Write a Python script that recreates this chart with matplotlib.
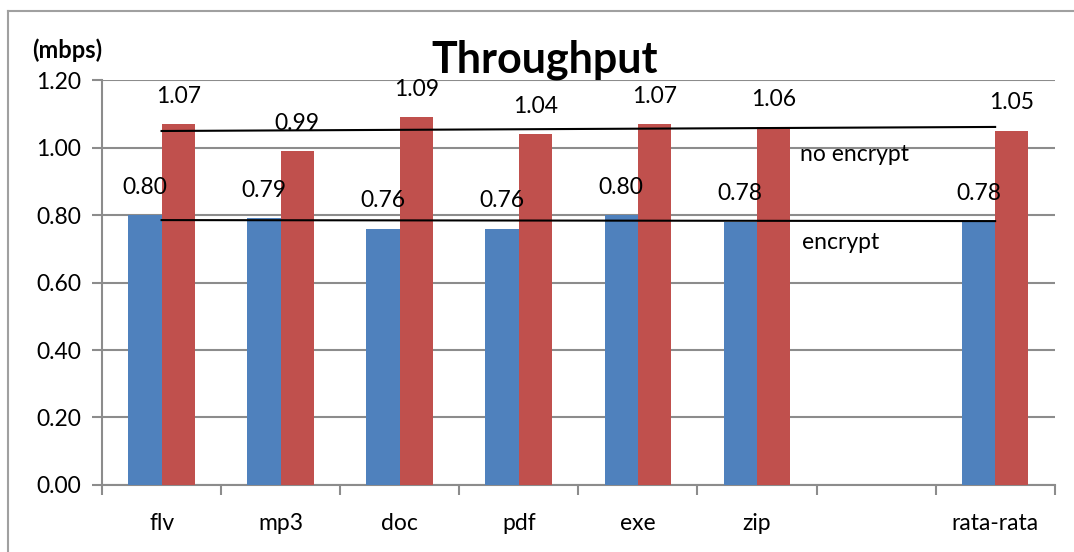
import matplotlib
matplotlib.use("Agg")
import matplotlib.pyplot as plt
from matplotlib.lines import Line2D
import numpy as np

plt.rcParams['font.family'] = ['Lato', 'DejaVu Sans']

# data
categories = ["flv", "mp3", "doc", "pdf", "exe", "zip", "", "rata-rata"]
encrypt = [0.80, 0.79, 0.76, 0.76, 0.80, 0.78, None, 0.78]
no_encrypt = [1.07, 0.99, 1.09, 1.04, 1.07, 1.06, None, 1.05]
# hand drawn guide lines (start, end)
line_no_encrypt = [1.049, 1.061]
line_encrypt = [0.785, 0.782]

blue = "#4F81BD"
red = "#C0504D"
grid_c = "#8C8C8C"
fs = 16.5

fig = plt.figure(figsize=(10.74, 5.52), dpi=100)
# chart border (left and top only visible in the crop)
bx, by = 8 / 1074, 1 - 11 / 552
fig.lines.append(Line2D([bx, bx], [0, by], transform=fig.transFigure,
                        color="#A0A0A0", linewidth=1.5))
fig.lines.append(Line2D([bx, 1], [by, by], transform=fig.transFigure,
                        color="#A0A0A0", linewidth=1.5))
ax = fig.add_axes([0.095, 0.1214, 0.887, 0.7336])

x = np.arange(len(categories))
w = 0.28
for i in range(len(categories)):
    if encrypt[i] is None:
        continue
    ax.bar(x[i] - w / 2, encrypt[i], w, color=blue, zorder=3)
    ax.bar(x[i] + w / 2, no_encrypt[i], w, color=red, zorder=3)
    ax.annotate("%.2f" % encrypt[i], (x[i] - w / 2, encrypt[i]), xytext=(0, 20),
                textcoords="offset points", ha="center", va="center", fontsize=fs)
    ax.annotate("%.2f" % no_encrypt[i], (x[i] + w / 2, no_encrypt[i]), xytext=(0, 20),
                textcoords="offset points", ha="center", va="center", fontsize=fs)

ax.plot([x[0], x[-1]], line_no_encrypt, color="black", linewidth=1.5, zorder=4)
ax.plot([x[0], x[-1]], line_encrypt, color="black", linewidth=1.5, zorder=4)
ax.text(5.36, 0.978, "no encrypt", fontsize=fs, va="center", ha="left")
ax.text(5.38, 0.72, "encrypt", fontsize=fs, va="center", ha="left")

ax.set_xlim(-0.5, len(categories) - 0.5)
ax.set_ylim(0, 1.2)
ax.set_yticks(np.arange(0, 1.21, 0.2))
ax.set_yticklabels(["%.2f" % v for v in np.arange(0, 1.21, 0.2)], fontsize=fs)
ax.set_xticks(x)
ax.set_xticklabels(categories, fontsize=fs)
ax.set_xticks(np.arange(-0.5, len(categories), 1), minor=True)
ax.tick_params(axis="x", which="major", length=0, pad=20)
ax.tick_params(axis="x", which="minor", length=7, color=grid_c, width=1.5)
ax.tick_params(axis="y", length=7, color=grid_c, width=1.5, pad=8)
ax.yaxis.grid(True, color=grid_c, linewidth=1.5, zorder=0)
ax.set_axisbelow(True)
for s in ["top", "right"]:
    ax.spines[s].set_visible(False)
for s in ["left", "bottom"]:
    ax.spines[s].set_color(grid_c)
    ax.spines[s].set_linewidth(1.5)

fig.text(545 / 1074, 1 - 60 / 552, "Throughput", fontsize=31, fontweight="bold",
         ha="center", va="center")
fig.text(32 / 1074, 1 - 50 / 552, "(mbps)", fontsize=17, fontweight="bold",
         ha="left", va="center")

fig.savefig("out.png", dpi=100)
